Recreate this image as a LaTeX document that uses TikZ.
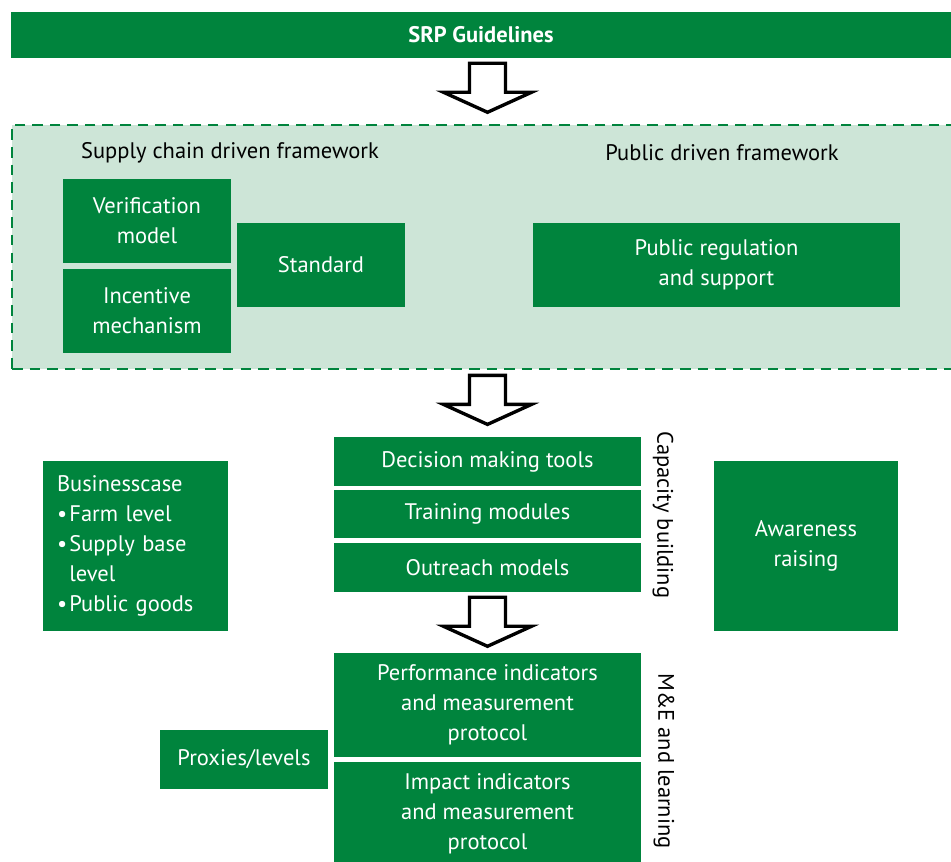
\documentclass[tikz,border=0pt]{standalone}
\usepackage{fontspec}
\setmainfont{PT Sans}
\usetikzlibrary{calc}
\definecolor{srpgreen}{HTML}{00843D}
\definecolor{srplight}{HTML}{CDE5D7}
\newcommand{\bul}{\makebox[0.55em][l]{\textbullet}}
\tikzset{
  gbox/.style 2 args={fill=srpgreen, text=white, align=center, inner sep=0pt,
    minimum width=#1*0.025cm, minimum height=#2*0.025cm,
    font=\fontsize{16}{21.3}\selectfont},
  lbl/.style={text=black, font=\fontsize{16}{21.3}\selectfont},
  blockarrow/.style={draw=black, fill=white, line width=2.4pt, line join=miter}
}
\begin{document}
\begin{tikzpicture}[x=0.025cm, y=-0.025cm]
            \useasboundingbox (0,0) rectangle (951,861);

            % Bandeau du haut
            \node[gbox={940}{46}, font=\fontsize{16}{21.3}\selectfont\bfseries] (bar) at (481,35) {SRP Guidelines};

            % Cadre pointillé des deux cadres
            \node[fill=srplight, draw=srpgreen, line width=2pt, dash pattern=on 7.5pt off 5pt,
                  minimum width=948*0.025cm, minimum height=244*0.025cm] (frame) at (486,247) {};
            \node[lbl] (supply) at (230,153) {Supply chain driven framework};
            \node[lbl] (publbl) at (722,153) {Public driven framework};

            \node[gbox={168}{84}] (verif) at (147,221) {Verification\\model};
            \node[gbox={168}{84}] (incent) at (147,311) {Incentive\\mechanism};
            \node[gbox={168}{84}] (standard) at (321,265) {Standard};
            \node[gbox={367}{84}] (public) at (716.5,265) {Public regulation\\and support};

            % Renforcement des capacités
            \node[gbox={307}{49}] (decision) at (487.5,461.5) {Decision making tools};
            \node[gbox={307}{48}] (training) at (487.5,514) {Training modules};
            \node[gbox={307}{49}] (outreach) at (487.5,567.5) {Outreach models};
            \node[lbl, rotate=-90] (capacity) at (663,515) {Capacity building};

            \node[gbox={185}{170}, align=left, text width=157*0.025cm] (business) at (135.5,546)
              {Businesscase\\\bul Farm level\\\bul Supply base\\\phantom{\bul}level\\\bul Public goods};
            \node[gbox={184}{170}] (aware) at (806,546) {Awareness\\raising};

            % Suivi et évaluation
            \node[gbox={307}{104}] (perf) at (487.5,705) {Performance indicators\\and measurement\\protocol};
            \node[gbox={307}{103}] (impact) at (487.5,813.5) {Impact indicators\\and measurement\\protocol};
            \node[lbl, rotate=-90] (mel) at (664,761) {M\&E and learning};
            \node[gbox={168}{59}] (proxies) at (244,759.5) {Proxies/levels};

            % Flèches creuses
            \foreach \a in {bar, frame, outreach}
              \draw[blockarrow, shift={($(decision.north |- \a.south)+(0,5)$)}]
                (-18,0) -- (18,0) -- (18,29) -- (44,29) -- (0,49) -- (-44,29) -- (-18,29) -- cycle;

        \end{tikzpicture}
\end{document}
